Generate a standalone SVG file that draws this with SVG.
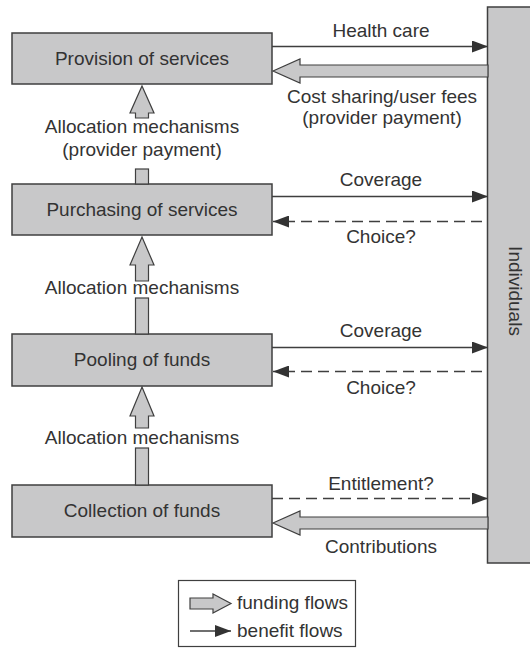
<svg xmlns="http://www.w3.org/2000/svg" width="530" height="648" viewBox="0 0 530 648">
<style>
.box{fill:#c8c8c9;stroke:#3f3f3f;stroke-width:1.5}
.fat{fill:#c8c8c9;stroke:#3f3f3f;stroke-width:1.2}
.ln{stroke:#3f3f3f;stroke-width:1.5;fill:none}
.dash{stroke-dasharray:11 6}
text{font-family:"Liberation Sans",Arial,sans-serif;font-size:19px;fill:#333}
.c{text-anchor:middle}
</style>
<defs>
<marker id="ah" markerUnits="userSpaceOnUse" markerWidth="16" markerHeight="12" refX="16" refY="6" orient="auto" viewBox="0 0 16 12">
<path d="M0,0 L16,6 L0,12 z" fill="#333"/>
</marker>
</defs>
<rect width="530" height="648" fill="#fff"/>
<g id="individuals">
<rect class="box" x="487.5" y="7" width="60" height="556"/>
<text class="c" transform="translate(509,291) rotate(90)">Individuals</text>
</g>
<g id="provision">
<rect class="box" x="12" y="33" width="260" height="51"/>
<text class="c" x="142" y="65">Provision of services</text>
</g>
<g id="purchasing">
<rect class="box" x="12" y="184" width="260" height="51"/>
<text class="c" x="142" y="216">Purchasing of services</text>
</g>
<g id="pooling">
<rect class="box" x="12" y="334" width="260" height="52"/>
<text class="c" x="142" y="366">Pooling of funds</text>
</g>
<g id="collection">
<rect class="box" x="12" y="485" width="260" height="52"/>
<text class="c" x="142" y="517">Collection of funds</text>
</g>
<g id="connectors">
<polygon class="fat" points="142,86 154,113 148.5,113 148.5,118 135.5,118 135.5,113 130,113"/>
<rect class="fat" x="135.5" y="169" width="13" height="15"/>
<text class="c" x="142" y="133">Allocation mechanisms</text>
<text class="c" x="142" y="156">(provider payment)</text>
<polygon class="fat" points="142,237 154,265 148.5,265 148.5,281 135.5,281 135.5,265 130,265"/>
<rect class="fat" x="135.5" y="298" width="13" height="36"/>
<text class="c" x="142" y="294">Allocation mechanisms</text>
<polygon class="fat" points="142,387 154,416 148.5,416 148.5,428 135.5,428 135.5,416 130,416"/>
<rect class="fat" x="135.5" y="448" width="13" height="37"/>
<text class="c" x="142" y="444">Allocation mechanisms</text>
<line class="ln" x1="272" y1="46.5" x2="488" y2="46.5" marker-end="url(#ah)"/>
<text class="c" x="381" y="37">Health care</text>
<polygon class="fat" points="273,71 300,59 300,65 488,65 488,77 300,77 300,83"/>
<text class="c" x="382" y="103">Cost sharing/user fees</text>
<text class="c" x="382" y="124">(provider payment)</text>
<line class="ln" x1="272" y1="196.5" x2="488" y2="196.5" marker-end="url(#ah)"/>
<text class="c" x="381" y="186">Coverage</text>
<line class="ln dash" x1="482" y1="221.5" x2="273" y2="221.5" marker-end="url(#ah)"/>
<text class="c" x="381" y="243">Choice?</text>
<line class="ln" x1="272" y1="347.5" x2="488" y2="347.5" marker-end="url(#ah)"/>
<text class="c" x="381" y="337">Coverage</text>
<line class="ln dash" x1="482" y1="371.5" x2="273" y2="371.5" marker-end="url(#ah)"/>
<text class="c" x="381" y="394">Choice?</text>
<line class="ln dash" x1="272" y1="498.5" x2="488" y2="498.5" marker-end="url(#ah)"/>
<text class="c" x="381" y="490">Entitlement?</text>
<polygon class="fat" points="273,523 300,511 300,517 488,517 488,529 300,529 300,535"/>
<text class="c" x="381" y="553">Contributions</text>
</g>
<g id="legend">
<rect x="178.5" y="580.5" width="177" height="66" fill="#fff" stroke="#3f3f3f" stroke-width="1.2"/>
<polygon class="fat" points="190,598 213,598 213,594 231,603.5 213,613 213,609 190,609"/>
<text x="237" y="609">funding flows</text>
<line class="ln" x1="190" y1="631" x2="231" y2="631" marker-end="url(#ah)"/>
<text x="237" y="637">benefit flows</text>
</g>
</svg>
